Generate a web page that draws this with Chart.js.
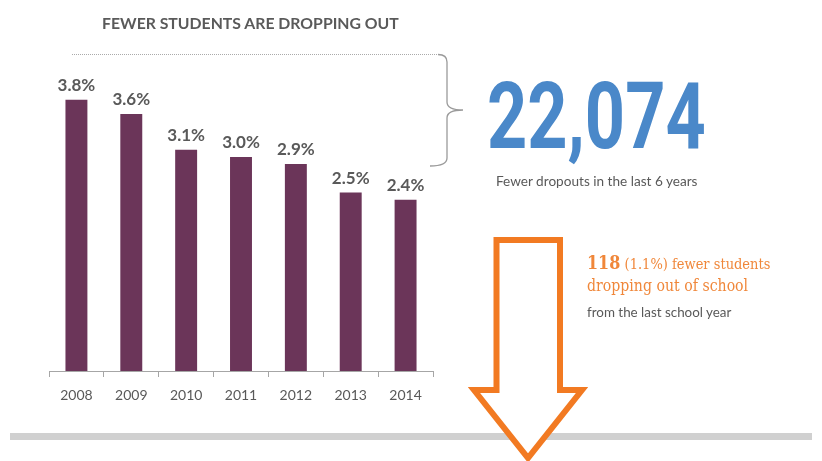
<!DOCTYPE html>
<html>
<head>
<meta charset="utf-8">
<script src="https://cdn.jsdelivr.net/npm/chart.js@4/dist/chart.umd.min.js"></script>
<style>
  html, body { margin:0; padding:0; background:#fff; }
  #wrap { position:relative; width:822px; height:461px; overflow:hidden; font-family:Lato, sans-serif; }
  #chart { position:absolute; left:0; top:0; }
  .t { position:absolute; white-space:nowrap; line-height:1; }
  #title { left:102px; top:15px; font-size:15.8px; font-weight:700; color:#5a5a5a; }
  #big { left:487px; top:70px; font-family:Roboto, sans-serif; font-size:93px; font-weight:700; color:#4a88c9; transform:scaleX(0.755); transform-origin:left top; }
  #sub { left:496px; top:175px; font-size:13.6px; color:#595959; }
  #o1 { left:587px; top:253px; color:#f0873a; font-family:"DejaVu Serif", serif; transform:scaleX(0.84); transform-origin:left top; }
  #o1 b { font-size:19px; font-weight:700; }
  #o1 span { font-size:15.5px; }
  #o2 { left:587px; top:277px; font-family:"DejaVu Serif", serif; font-size:17px; color:#f0873a; transform:scaleX(0.83); transform-origin:left top; }
  #o3 { left:587px; top:306px; font-size:13.4px; color:#595959; }
</style>
</head>
<body>
<div id="wrap">
  <canvas id="chart" width="822" height="461"></canvas>
  <div class="t" id="title">FEWER STUDENTS ARE DROPPING OUT</div>
  <div class="t" id="big">22,074</div>
  <div class="t" id="sub">Fewer dropouts in the last 6 years</div>
  <div class="t" id="o1"><b>118</b> <span>(1.1%) fewer students</span></div>
  <div class="t" id="o2">dropping out of school</div>
  <div class="t" id="o3">from the last school year</div>
</div>
<script>
// dropout rate by school year
const years = ['2008', '2009', '2010', '2011', '2012', '2013', '2014'];
const rates = [3.8, 3.6, 3.1, 3.0, 2.9, 2.5, 2.4];

const GREY = '#595959';

// value labels above each bar
const barLabels = {
  id: 'barLabels',
  afterDatasetsDraw(chart) {
    const c = chart.ctx;
    c.save();
    c.font = 'bold 17px Lato, sans-serif';
    c.fillStyle = GREY;
    c.textAlign = 'center';
    c.textBaseline = 'alphabetic';
    chart.getDatasetMeta(0).data.forEach((bar, i) => {
      c.fillText(rates[i].toFixed(1) + '%', bar.x, bar.y - 9);
    });
    c.restore();
  }
};

// dotted rule, brace, arrow and footer bar
const decor = {
  id: 'decor',
  afterDraw(chart) {
    const c = chart.ctx;
    c.save();
    // dotted line to brace
    c.strokeStyle = '#aaa';
    c.lineWidth = 1;
    c.setLineDash([1, 1]);
    c.beginPath(); c.moveTo(72, 54.5); c.lineTo(440, 54.5); c.stroke();
    c.setLineDash([]);
    // brace
    c.strokeStyle = '#9a9a9a';
    c.lineWidth = 1.3;
    c.beginPath();
    c.moveTo(438, 54.5);
    c.quadraticCurveTo(447, 54.5, 447, 62);
    c.lineTo(447, 102);
    c.quadraticCurveTo(447, 110, 463, 110);
    c.moveTo(463, 110);
    c.quadraticCurveTo(447, 110, 447, 118);
    c.lineTo(447, 158);
    c.quadraticCurveTo(447, 166, 430, 166);
    c.stroke();
    // footer bar
    c.fillStyle = '#d0d0d0';
    c.fillRect(10, 433, 802, 7);
    // arrow
    c.strokeStyle = '#f27a22';
    c.fillStyle = '#fff';
    c.lineWidth = 6;
    c.lineJoin = 'miter';
    c.beginPath();
    c.moveTo(496.5, 240);
    c.lineTo(560, 240);
    c.lineTo(560, 390);
    c.lineTo(582, 390);
    c.lineTo(528, 458);
    c.lineTo(474, 390);
    c.lineTo(496.5, 390);
    c.closePath();
    c.fill();
    c.stroke();
    c.restore();
  }
};

new Chart(document.getElementById('chart'), {
  type: 'bar',
  data: {
    labels: years,
    datasets: [{
      data: rates,
      backgroundColor: '#6b3559',
      categoryPercentage: 1,
      barPercentage: 0.4
    }]
  },
  options: {
    responsive: false,
    animation: false,
    events: [],
    layout: { padding: { left: 49, right: 389, top: 57, bottom: 0 } },
    plugins: { legend: { display: false }, tooltip: { enabled: false } },
    scales: {
      x: {
        afterFit(scale) { scale.height = 90; },
        border: { display: true, color: '#a6a6a6', width: 1 },
        grid: { offset: true, drawOnChartArea: false, drawTicks: true, tickLength: 6, color: '#a6a6a6' },
        ticks: { color: GREY, font: { family: 'Lato, sans-serif', size: 14 }, padding: 10 }
      },
      y: { display: false, min: 0, max: 4.4 }
    }
  },
  plugins: [barLabels, decor]
});
</script>
</body>
</html>
